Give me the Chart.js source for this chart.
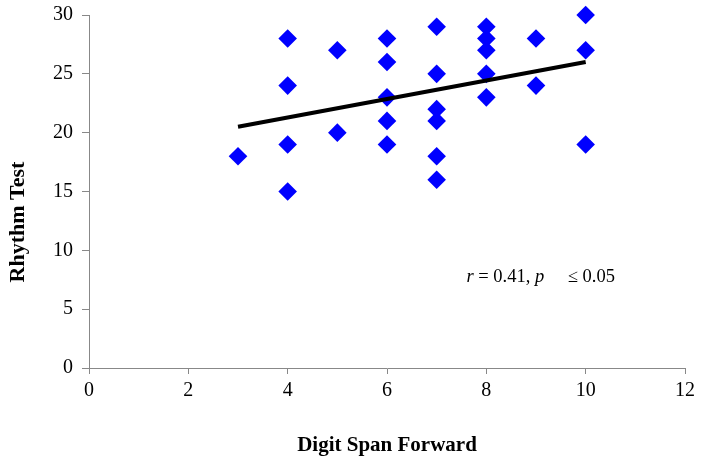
<!DOCTYPE html>
<html>
<head>
<meta charset="utf-8">
<script src="https://cdn.jsdelivr.net/npm/chart.js@4/dist/chart.umd.min.js"></script>
<style>
  html,body{margin:0;padding:0;background:#fff;}
  #wrap{width:702px;height:462px;}
</style>
</head>
<body>
<div id="wrap"><canvas id="myChart" width="702" height="462"></canvas></div>
<script>
// values
const digitSpan=[3,4,4,4,4,5,5,6,6,6,6,6,7,7,7,7,7,7,8,8,8,8,8,9,9,10,10,10]
const rhythm=[18,28,24,19,15,27,20,28,26,23,21,19,29,25,22,21,18,16,29,28,27,25,23,28,24,30,27,19]
const trendX=[3,10]
const trendY=[20.5,26.0]
const xTicks=[0,2,4,6,8,10,12]
const yTicks=[0,5,10,15,20,25,30]

const points=digitSpan.map((x,i)=>({x:x,y:rhythm[i]}))
const trend=trendX.map((x,i)=>({x:x,y:trendY[i]}))

const serif="'Liberation Serif','Times New Roman',serif"

// r / p annotation + y title (placed by hand so it sits off-centre like the original)
const extras={
  id:'extras',
  afterDraw(chart){
    const ctx=chart.ctx
    const xs=chart.scales.x, ys=chart.scales.y
    const py=ys.getPixelForValue(7.35)
    const parts=[['italic','r'],['normal',' = 0.41, '],['italic','p']]
    ctx.save()
    ctx.fillStyle='#000'
    ctx.textBaseline='alphabetic'
    let cx=xs.getPixelForValue(7.6)
    parts.forEach(p=>{
      ctx.font=p[0]+' 18.5px '+serif
      ctx.fillText(p[1],cx,py)
      cx+=ctx.measureText(p[1]).width
    })
    ctx.font='18.5px '+serif
    ctx.fillText('\u2264 0.05',xs.getPixelForValue(9.64),py)
    // y axis title
    ctx.translate(18,222)
    ctx.rotate(-Math.PI/2)
    ctx.font='bold 22px '+serif
    ctx.textAlign='center'
    ctx.textBaseline='middle'
    ctx.fillText('Rhythm Test',0,0)
    ctx.restore()
  }
}

const ctx=document.getElementById('myChart').getContext('2d')
const chart=new Chart(ctx,{
  type:'scatter',
  data:{
    datasets:[
      {
        label:'Rhythm Test',
        data:points,
        pointStyle:'rectRot',
        pointRadius:9.3,
        backgroundColor:'#0000ff',
        borderColor:'#0000ff',
        borderWidth:0,
        clip:false,
        order:2
      },
      {
        label:'trend',
        data:trend,
        type:'line',
        showLine:true,
        borderColor:'#000',
        borderWidth:4,
        pointRadius:0,
        fill:false,
        order:1
      }
    ]
  },
  options:{
    responsive:false,
    animation:false,
    layout:{padding:{top:15,right:17,left:0,bottom:0}},
    plugins:{legend:{display:false},tooltip:{enabled:false}},
    scales:{
      x:{
        type:'linear',
        min:0,max:12,
        afterBuildTicks:s=>{s.ticks=xTicks.map(v=>({value:v}))},
        afterFit:s=>{s.height=94;s.paddingLeft=0;s.paddingRight=0},
        grid:{drawOnChartArea:false,color:'#888',tickLength:6},
        border:{color:'#888'},
        ticks:{color:'#000',font:{family:serif,size:20},padding:5,maxRotation:0},
        title:{display:true,text:'Digit Span Forward',color:'#000',
          font:{family:serif,size:21,weight:'bold'},padding:{top:0,bottom:4}}
      },
      y:{
        type:'linear',
        min:0,max:30,
        afterBuildTicks:s=>{s.ticks=yTicks.map(v=>({value:v}))},
        afterFit:s=>{s.width=89;s.paddingTop=0;s.paddingBottom=0},
        grid:{drawOnChartArea:false,color:'#888',tickLength:7},
        border:{color:'#888'},
        ticks:{color:'#000',font:{family:serif,size:20},padding:9}
      }
    }
  },
  plugins:[extras]
})
</script>
</body>
</html>
